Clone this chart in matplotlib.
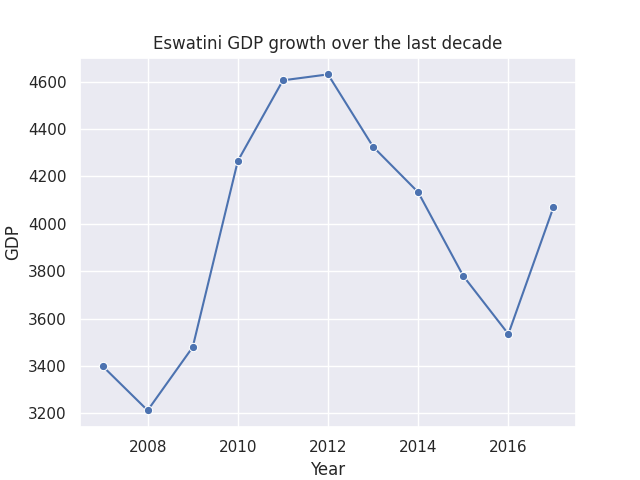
import matplotlib
matplotlib.use("Agg")
import matplotlib.pyplot as plt
import seaborn as sns
import pandas as pd

years = [2007, 2008, 2009, 2010, 2011, 2012, 2013, 2014, 2015, 2016, 2017]
gdp = [3400, 3213, 3480, 4265, 4605, 4630, 4325, 4133, 3780, 3535, 4070]

sns.set_theme(style="darkgrid")
df = pd.DataFrame({"Year": years, "GDP": gdp})

fig, ax = plt.subplots(figsize=(6.4, 4.8), dpi=100)
sns.lineplot(data=df, x="Year", y="GDP", marker="o", ax=ax)
ax.set_title("Eswatini GDP growth over the last decade")
fig.savefig("out.png")
